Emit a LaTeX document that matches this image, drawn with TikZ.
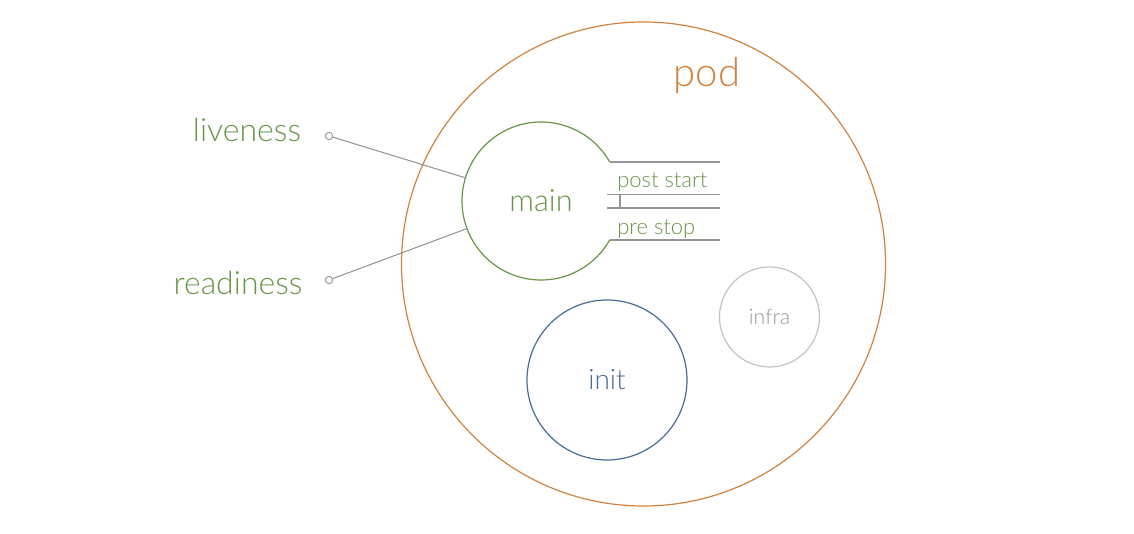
\documentclass[tikz,border=0pt]{standalone}
\usepackage{fontspec}
\setmainfont{Lato Light}
\definecolor{kgreen}{RGB}{104,148,70}
\definecolor{korange}{RGB}{208,130,62}
\definecolor{kblue}{RGB}{72,106,150}
\definecolor{kgray}{RGB}{150,150,150}
\definecolor{klight}{RGB}{195,195,195}
\begin{document}
\begin{tikzpicture}[x=0.75pt,y=0.75pt,
  ring/.style={circle,inner sep=0pt,outer sep=0pt},
  lbl/.style={inner sep=0pt,text=kgreen},
  hook/.style={draw=kgray,line width=0.9pt},
  dot/.style={circle,draw=kgray,fill=white,inner sep=0pt,minimum size=5.5pt,line width=0.7pt}]
\useasboundingbox (0,0) rectangle (1134,534);
% pod
\node[ring,draw=korange,line width=0.9pt,minimum size=363pt] (pod) at (643.5,270) {};
\node[inner sep=0pt,text=korange,font=\fontsize{30}{30}\selectfont] (podlbl) at (707,459) {pod};
% main
\node[ring,minimum size=118.5pt,font=\fontsize{23}{24}\selectfont,text=kgreen] (main) at (541,333) {\raisebox{-2.5pt}{main}};
\draw[kgreen,line width=0.9pt] (main.center) ++(29.5:79) arc[start angle=29.5,end angle=330.5,radius=79];
% hooks
\coordinate (h1a) at (609.8,372); \coordinate (h1b) at (720,372);
\coordinate (h2a) at (607,339.5); \coordinate (h2b) at (720,339.5);
\coordinate (h3a) at (607,326); \coordinate (h3b) at (720,326);
\coordinate (h4a) at (609.8,294); \coordinate (h4b) at (720,294);
\coordinate (t1) at (620,339.5); \coordinate (t2) at (620,326);
\draw[hook] (h1a) -- (h1b);
\draw[hook] (h2a) -- (h2b);
\draw[hook] (h3a) -- (h3b);
\draw[hook] (h4a) -- (h4b);
\draw[hook] (t1) -- (t2);
\node[lbl,anchor=west,font=\fontsize{16.5}{17}\selectfont] (post) at (617,352) {post start};
\node[lbl,anchor=west,font=\fontsize{16.5}{17}\selectfont] (pre) at (617,305) {pre stop};
% probes
\node[lbl,font=\fontsize{24}{25}\selectfont] (live) at (247,404) {liveness};
\node[lbl,font=\fontsize{24}{25}\selectfont] (ready) at (238,251) {readiness};
\node[dot] (ldot) at (329,398) {};
\node[dot] (rdot) at (329,254) {};
\draw[kgray,line width=0.8pt] (ldot) -- (main);
\draw[kgray,line width=0.8pt] (rdot) -- (main);
% init
\node[ring,draw=kblue,line width=0.9pt,minimum size=120pt,text=kblue,font=\fontsize{21}{22}\selectfont] (init) at (607,154) {init};
% infra
\node[ring,draw=klight,line width=0.9pt,minimum size=75pt,text=kgray,font=\fontsize{16}{17}\selectfont] (infra) at (769.5,217) {infra};
\end{tikzpicture}
\end{document}
